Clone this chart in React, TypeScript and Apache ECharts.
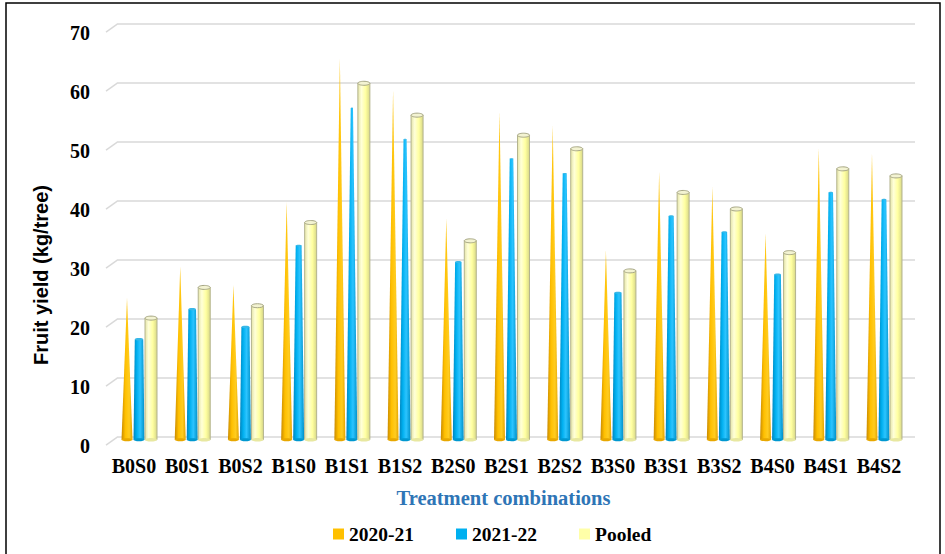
import React, { useEffect, useRef } from "react";
import * as echarts from "echarts";

const categories = ["B0S0", "B0S1", "B0S2", "B1S0", "B1S1", "B1S2", "B2S0", "B2S1", "B2S2", "B3S0", "B3S1", "B3S2", "B4S0", "B4S1", "B4S2"];
const yield2020 = [23.5, 28.8, 25.7, 39.8, 64.1, 58.8, 37.0, 55.1, 52.8, 31.6, 44.9, 42.4, 34.5, 48.9, 48.0];
const yield2021 = [16.5, 21.6, 18.6, 32.4, 55.7, 50.4, 29.6, 47.1, 44.6, 24.4, 37.4, 34.7, 27.5, 41.4, 40.2];
const pooled = [20.1, 25.3, 22.2, 36.3, 59.9, 54.5, 33.2, 51.1, 48.8, 28.1, 41.4, 38.6, 31.2, 45.4, 44.2];
const yTicks = [0, 10, 20, 30, 40, 50, 60, 70];
const seriesNames = ["2020-21", "2021-22", "Pooled"];
const Y_MAX = 70;

const SERIF = "'Liberation Serif', 'Times New Roman', serif";
const SANS = "'Liberation Sans', Arial, sans-serif";

const lg = (stops: [number, string][]) =>
  new echarts.graphic.LinearGradient(0, 0, 1, 0, stops.map(([offset, color]) => ({ offset, color })));

const renderCone = (params: any, api: any) => {
  const idx = api.value(0);
  const v = api.value(1);
  const base = api.coord([idx, 0]);
  const top = api.coord([idx, v]);
  const cx = base[0] - 12;
  const by = base[1] + 3;
  const w = 11;
  return {
    type: "group",
    children: [
      {
        type: "polygon",
        shape: { points: [[cx - w / 2, by], [cx, top[1]], [cx + w / 2, by]] },
        style: { fill: lg([[0, "#C98A00"], [0.35, "#FFC000"], [0.7, "#FFCC20"], [1, "#E3A300"]]) },
      },
      { type: "ellipse", shape: { cx, cy: by, rx: w / 2, ry: 1.5 }, style: { fill: "#E8A800" } },
    ],
  };
};

const renderTaper = (params: any, api: any) => {
  const idx = api.value(0);
  const v = api.value(1);
  const base = api.coord([idx, 0]);
  const top = api.coord([idx, v]);
  const cx = base[0];
  const by = base[1] + 3;
  const wb = 11;
  const wt = wb * (1 - v / Y_MAX);
  return {
    type: "group",
    children: [
      {
        type: "polygon",
        shape: { points: [[cx - wb / 2, by], [cx - wt / 2, top[1]], [cx + wt / 2, top[1]], [cx + wb / 2, by]] },
        style: { fill: lg([[0, "#0085BD"], [0.3, "#00B0F0"], [0.6, "#2CC4FF"], [1, "#0090C8"]]) },
      },
      { type: "ellipse", shape: { cx, cy: by, rx: wb / 2, ry: 1.5 }, style: { fill: "#0098D0" } },
      { type: "ellipse", shape: { cx, cy: top[1], rx: Math.max(wt / 2, 0.6), ry: Math.max(wt * 0.15, 0.5) }, style: { fill: "#38B8E8" } },
    ],
  };
};

const renderCylinder = (params: any, api: any) => {
  const idx = api.value(0);
  const v = api.value(1);
  const base = api.coord([idx, 0]);
  const top = api.coord([idx, v]);
  const cx = base[0] + 12;
  const by = base[1] + 3;
  const w = 12;
  return {
    type: "group",
    children: [
      {
        type: "rect",
        shape: { x: cx - w / 2, y: top[1], width: w, height: by - top[1] },
        style: { fill: lg([[0, "#E4E4A8"], [0.3, "#FFFFD8"], [0.65, "#FFFFA0"], [1, "#D8D888"]]), stroke: "#B4B48E", lineWidth: 1 },
      },
      { type: "ellipse", shape: { cx, cy: by, rx: w / 2, ry: 1.8 }, style: { fill: "#E8E8A0" } },
      { type: "ellipse", shape: { cx, cy: top[1], rx: w / 2, ry: 2 }, style: { fill: "#F3F3D2", stroke: "#A6A684", lineWidth: 1 } },
    ],
  };
};

const renderTick = (params: any, api: any) => {
  const v = api.value(1);
  const p = api.coord([0, v]);
  const x = params.coordSys.x;
  return {
    type: "line",
    shape: { x1: x - 12, y1: p[1] + 8.5, x2: x, y2: p[1] },
    style: { stroke: "#D9D9D9", lineWidth: 1.5 },
  };
};

export default function App() {
  const ref = useRef<HTMLDivElement>(null);
  useEffect(() => {
    if (!ref.current) return;
    const chart = echarts.init(ref.current, undefined, { renderer: "svg" });
    const labelStyle = { fontFamily: SERIF, fontWeight: "bold" as const, fontSize: 20, color: "#000" };
    chart.setOption({
      animation: false,
      backgroundColor: "#ffffff",
      grid: [
        { left: 112.4, right: 34.4, top: 23.7, bottom: 117.3 },
        { left: 118, right: 30, top: 23.7, bottom: 117.3 },
      ],
      xAxis: [
        {
          type: "category",
          gridIndex: 0,
          data: categories,
          axisLine: { show: false },
          axisTick: { show: false },
          axisLabel: { ...labelStyle, margin: 19, padding: [0, 10, 0, 0], interval: 0 },
        },
        { type: "value", gridIndex: 1, min: 0, max: 1, show: false },
      ],
      yAxis: [
        { type: "value", gridIndex: 0, min: 0, max: Y_MAX, interval: 10, show: false, splitLine: { show: false } },
        {
          type: "value",
          gridIndex: 1,
          min: 0,
          max: Y_MAX,
          interval: 10,
          axisLine: { show: false },
          axisTick: { show: false },
          splitLine: { lineStyle: { color: "#D9D9D9", width: 1.5 } },
          axisLabel: { ...labelStyle, margin: 28, verticalAlign: "top", lineHeight: 18 },
        },
      ],
      legend: {
        left: 328,
        top: 519,
        itemWidth: 11,
        itemHeight: 11,
        itemGap: 42,
        icon: "rect",
        data: seriesNames,
        textStyle: { ...labelStyle, fontSize: 19.5 },
      },
      graphic: [
        {
          type: "rect",
          shape: { x: 6, y: 3, width: 934, height: 560 },
          style: { fill: "none", stroke: "#000", lineWidth: 1.5 },
          silent: true,
        },
        {
          type: "text",
          x: 41,
          y: 275,
          rotation: Math.PI / 2,
          style: { text: "Fruit yield (kg/tree)", fontFamily: SANS, fontWeight: "bold", fontSize: 20, fill: "#000", textAlign: "center", textVerticalAlign: "middle" },
        },
        {
          type: "text",
          x: 503.5,
          y: 498,
          style: { text: "Treatment combinations", fontFamily: SERIF, fontWeight: "bold", fontSize: 20.5, fill: "#2E75B6", textAlign: "center", textVerticalAlign: "middle" },
        },
      ],
      series: [
        {
          type: "custom",
          name: "ticks",
          xAxisIndex: 1,
          yAxisIndex: 1,
          data: yTicks.map((t) => [0, t]),
          encode: { x: 0, y: 1 },
          renderItem: renderTick,
          silent: true,
          z: 1,
        },
        {
          type: "custom",
          name: seriesNames[0],
          xAxisIndex: 0,
          yAxisIndex: 0,
          itemStyle: { color: "#FFC000" },
          data: yield2020.map((v, i) => [i, v]),
          encode: { x: 0, y: 1 },
          renderItem: renderCone,
          z: 3,
        },
        {
          type: "custom",
          name: seriesNames[1],
          xAxisIndex: 0,
          yAxisIndex: 0,
          itemStyle: { color: "#00B0F0" },
          data: yield2021.map((v, i) => [i, v]),
          encode: { x: 0, y: 1 },
          renderItem: renderTaper,
          z: 3,
        },
        {
          type: "custom",
          name: seriesNames[2],
          xAxisIndex: 0,
          yAxisIndex: 0,
          itemStyle: { color: "#FFFFA8" },
          data: pooled.map((v, i) => [i, v]),
          encode: { x: 0, y: 1 },
          renderItem: renderCylinder,
          z: 3,
        },
      ],
    });
    return () => chart.dispose();
  }, []);
  return <div ref={ref} style={{ position: "fixed", left: 0, top: 0, width: 945, height: 554 }} />;
}
